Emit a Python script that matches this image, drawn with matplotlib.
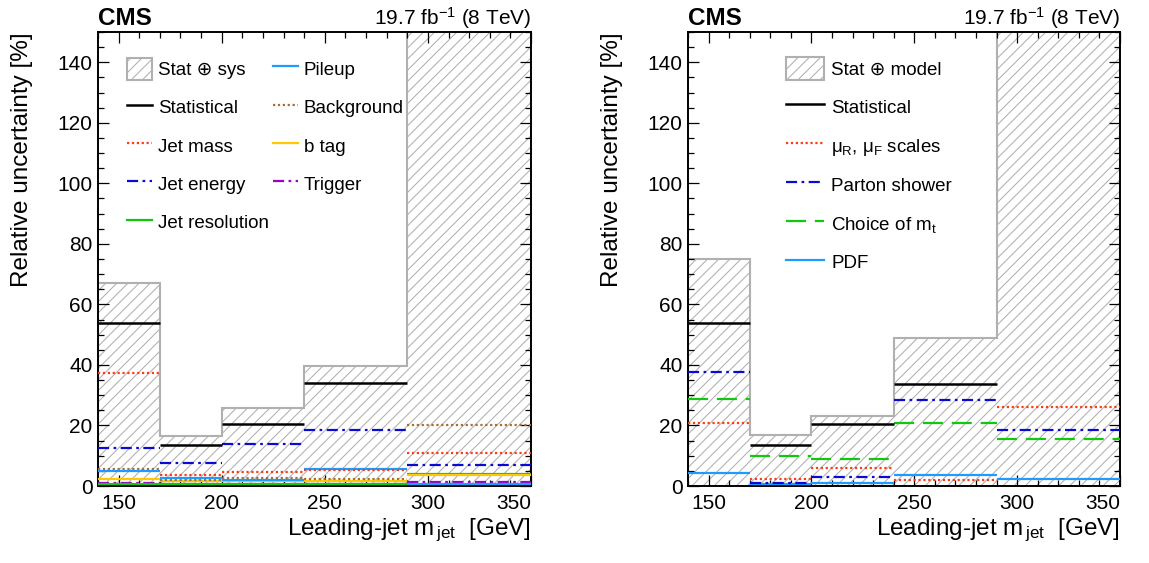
import matplotlib
matplotlib.use('Agg')
import matplotlib.pyplot as plt
from matplotlib.patches import Patch
from matplotlib.lines import Line2D
from matplotlib.ticker import MultipleLocator

plt.rcParams['font.family'] = ['Liberation Sans', 'DejaVu Sans']
plt.rcParams['mathtext.fontset'] = 'custom'
plt.rcParams['mathtext.rm'] = 'Liberation Sans'
plt.rcParams['mathtext.it'] = 'Liberation Sans'
plt.rcParams['mathtext.bf'] = 'Liberation Sans:bold'
plt.rcParams['hatch.linewidth'] = 0.75
plt.rcParams['hatch.color'] = '#b0b0b0'

# ---------------- data ----------------
bin_edges = [140, 170, 200, 240, 290, 350]

# left panel (experimental systematics)
stat_sys = [67.2, 16.5, 25.7, 39.5, 170.0]
statistical = [53.8, 13.5, 20.6, 33.9, 165.0]
jet_mass = [37.5, 3.6, 4.7, 5.3, 10.8]
jet_energy = [12.6, 7.7, 14.0, 18.5, 7.0]
jet_resolution = [0.5, 0.5, 0.5, 0.7, 4.0]
pileup = [5.1, 2.7, 2.0, 5.6, 0.7]
background = [5.7, 2.0, 2.6, 2.3, 20.2]
btag = [2.4, 1.7, 1.5, 1.5, 3.6]
trigger = [1.1, 0.7, 0.5, 0.5, 1.4]

# right panel (modelling)
stat_model = [74.9, 16.8, 23.2, 49.0, 170.0]
statistical_r = [53.8, 13.4, 20.6, 33.8, 165.0]
scales = [20.8, 2.3, 6.0, 2.0, 26.2]
parton_shower = [37.7, 1.1, 3.1, 28.4, 18.6]
choice_mt = [28.8, 10.0, 9.0, 20.8, 15.5]
pdf = [4.4, 0.8, 1.0, 3.7, 2.3]

x_ticks = [150, 200, 250, 300, 350]
y_ticks = [0, 20, 40, 60, 80, 100, 120, 140]

# ---------------- styles ----------------
HATCH_EC = '#b0b0b0'
RED = '#ff3a14'
BLUE = '#0a0ad2'
GREEN = '#10c810'
CYAN = '#1e9bff'
BROWN = '#a66e35'
YELLOW = '#ffc800'
PURPLE = '#9b00c8'

DOT = (0, (1.0, 1.2))
DASHDOT = (0, (5, 2, 1.2, 2))
DASH = (0, (9, 4))

fig = plt.figure(figsize=(11.49, 5.63), dpi=100)
axL = fig.add_axes([98 / 1149, 1 - 486 / 563, 433 / 1149, 454 / 563])
axR = fig.add_axes([688 / 1149, 1 - 486 / 563, 432 / 1149, 454 / 563])


def style_axes(ax):
    ax.set_xlim(140, 350)
    ax.set_ylim(0, 150)
    ax.set_xticks(x_ticks)
    ax.set_yticks(y_ticks)
    ax.xaxis.set_minor_locator(MultipleLocator(10))
    ax.yaxis.set_minor_locator(MultipleLocator(5))
    ax.tick_params(which='both', direction='in', top=True, right=True,
                   labelsize=15, width=0.9)
    ax.tick_params(axis='y', pad=4)
    ax.tick_params(axis='x', pad=6)
    ax.tick_params(which='major', length=8)
    ax.tick_params(which='minor', length=4)
    for s in ax.spines.values():
        s.set_linewidth(1.4)
    labs = ax.get_xticklabels()
    labs[-1].set_horizontalalignment('right')
    ax.set_ylabel('Relative uncertainty [%]', fontsize=17.5, loc='top')
    ax.yaxis.set_label_coords(-0.150, 1.0)
    ax.set_xlabel(r'Leading-jet m$_{\,\mathrm{jet}}$  [GeV]', fontsize=17.5,
                  loc='right')
    ax.xaxis.set_label_coords(1.0, -0.068)
    ax.text(0.0, 1.0154, 'CMS', transform=ax.transAxes, fontsize=17.5,
            fontweight='bold', ha='left', va='baseline')
    ax.text(1.0, 1.0154, r'19.7 fb$^{-1}$ (8 TeV)', transform=ax.transAxes,
            fontsize=15, ha='right', va='baseline')


def draw_total(ax, vals):
    ax.stairs(vals, bin_edges, baseline=0, fill=True, facecolor='white',
              edgecolor=HATCH_EC, hatch='///', linewidth=0, zorder=1)
    ax.stairs(vals, bin_edges, baseline=0, fill=False, edgecolor=HATCH_EC,
              linewidth=1.5, zorder=1.5)


def seg(ax, vals, color, ls, lw=1.6, z=3):
    ax.hlines(vals, bin_edges[:-1], bin_edges[1:], colors=color,
              linestyles=ls, linewidth=lw, zorder=z)


# ---------------- left ----------------
draw_total(axL, stat_sys)
seg(axL, trigger, PURPLE, DASHDOT)
seg(axL, jet_resolution, GREEN, '-')
seg(axL, btag, YELLOW, '-')
seg(axL, background, BROWN, DOT)
seg(axL, pileup, CYAN, '-')
seg(axL, jet_energy, BLUE, DASHDOT)
seg(axL, jet_mass, RED, DOT)
seg(axL, statistical, 'black', '-', lw=1.8)
style_axes(axL)

hL = [Patch(facecolor='white', edgecolor=HATCH_EC, hatch='///', linewidth=1.5),
      Line2D([], [], color='black', lw=1.8),
      Line2D([], [], color=RED, lw=1.6, ls=DOT),
      Line2D([], [], color=BLUE, lw=1.6, ls=DASHDOT),
      Line2D([], [], color=GREEN, lw=1.6),
      Line2D([], [], color=CYAN, lw=1.6),
      Line2D([], [], color=BROWN, lw=1.6, ls=DOT),
      Line2D([], [], color=YELLOW, lw=1.6),
      Line2D([], [], color=PURPLE, lw=1.6, ls=DASHDOT)]
lL = ['Stat \u2295 sys', 'Statistical', 'Jet mass', 'Jet energy',
      'Jet resolution', 'Pileup', 'Background', 'b tag', 'Trigger']
axL.legend(hL, lL, loc='upper left', bbox_to_anchor=(0.067, 0.943),
           ncol=2, frameon=False, fontsize=13.5, borderpad=0,
           borderaxespad=0, handlelength=1.35, handleheight=1.4,
           handletextpad=0.3, labelspacing=0.89, columnspacing=0.2)

# ---------------- right ----------------
draw_total(axR, stat_model)
seg(axR, pdf, CYAN, '-')
seg(axR, scales, RED, DOT)
seg(axR, choice_mt, GREEN, DASH)
seg(axR, parton_shower, BLUE, DASHDOT)
seg(axR, statistical_r, 'black', '-', lw=1.8)
style_axes(axR)

hR = [Patch(facecolor='white', edgecolor=HATCH_EC, hatch='///', linewidth=1.5),
      Line2D([], [], color='black', lw=1.8),
      Line2D([], [], color=RED, lw=1.6, ls=DOT),
      Line2D([], [], color=BLUE, lw=1.6, ls=DASHDOT),
      Line2D([], [], color=GREEN, lw=1.6, ls=DASH),
      Line2D([], [], color=CYAN, lw=1.6)]
lR = ['Stat \u2295 model', 'Statistical', r'$\mu_{\mathrm{R}}$, $\mu_{\mathrm{F}}$ scales',
      'Parton shower', r'Choice of m$_{\mathrm{t}}$', 'PDF']
axR.legend(hR, lR, loc='upper left', bbox_to_anchor=(0.227, 0.945),
           frameon=False, fontsize=13.5, borderpad=0, borderaxespad=0,
           handlelength=2.0, handleheight=1.5, handletextpad=0.4,
           labelspacing=0.84)

fig.savefig('out.png', dpi=100)
